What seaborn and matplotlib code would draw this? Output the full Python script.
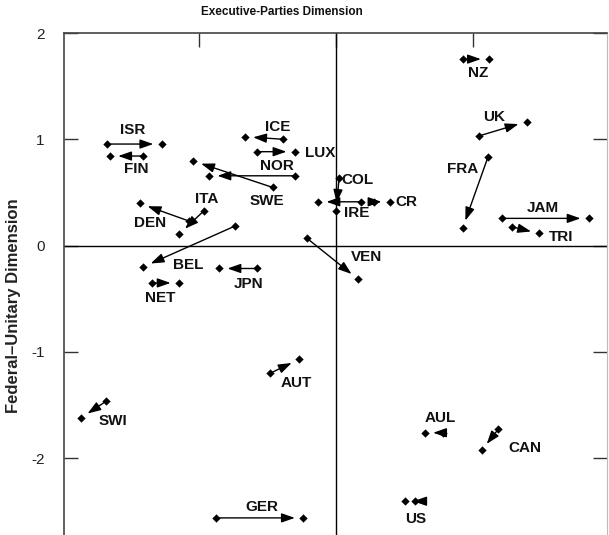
import matplotlib
matplotlib.use("Agg")
import matplotlib.pyplot as plt
import seaborn as sns
import pandas as pd

# ---- data (start -> end positions on the two dimensions) ----
countries = ["ISR", "FIN", "ICE", "LUX", "NOR", "SWE", "ITA", "DEN", "BEL", "JPN",
             "NET", "AUT", "SWI", "GER", "NZ", "UK", "FRA", "JAM", "TRI", "COL",
             "IRE", "CR", "VEN", "AUL", "CAN", "US"]
x_start = [-1.670, -1.408, -0.384, -0.573, -0.299, -0.461, -0.961, -1.068, -0.736, -0.573,
           -1.342, -0.476, -1.675, -0.876, 0.927, 1.042, 1.109, 1.207, 1.284, 0.024,
           0.180, 0.277, -0.209, 0.779, 1.182, 0.575]
y_start = [0.957, 0.844, 1.002, 0.885, 0.658, 0.549, 0.328, 0.231, 0.184, -0.215,
           -0.351, -1.200, -1.467, -2.564, 1.757, 1.033, 0.838, 0.257, 0.177, 0.634,
           0.413, 0.413, 0.068, -1.762, -1.731, -2.407]
x_end = [-1.269, -1.646, -0.663, -0.299, -0.923, -1.039, -1.143, -1.428, -1.404, -0.850,
         -1.143, -0.267, -1.859, -0.238, 1.117, 1.389, 0.923, 1.843, 1.481, 0.000,
         -0.129, 0.393, 0.162, 0.648, 1.061, 0.503]
y_end = [0.957, 0.844, 1.026, 0.885, 0.658, 0.797, 0.106, 0.398, -0.200, -0.215,
         -0.351, -1.071, -1.624, -2.564, 1.757, 1.168, 0.162, 0.257, 0.115, 0.325,
         0.413, 0.413, -0.316, -1.762, -1.929, -2.407]

# label placement (layout, data coordinates)
label_x = [-1.479, -1.452, -0.425, -0.117, -0.432, -0.505, -0.942, -1.355, -1.074, -0.639,
           -1.282, -0.286, -1.622, -0.541, 1.036, 1.153, 0.927, 1.510, 1.644, 0.157,
           0.149, 0.517, 0.224, 0.757, 1.377, 0.583]
label_y = [1.090, 0.719, 1.121, 0.875, 0.753, 0.420, 0.439, 0.215, -0.184, -0.363,
           -0.492, -1.290, -1.656, -2.464, 1.625, 1.209, 0.719, 0.351, 0.077, 0.618,
           0.304, 0.413, -0.106, -1.621, -1.904, -2.574]

y_ticks = [-2, -1, 0, 1, 2]
x_ticks = [-1, 0, 1]

sns.set_style("white")
plt.rcParams["font.family"] = ["Liberation Sans", "DejaVu Sans"]
plt.rcParams["axes.unicode_minus"] = False

fig = plt.figure(figsize=(6.09, 5.35), dpi=100)
ax = fig.add_axes([64 / 609, 0.0, (607 - 64) / 609, (535 - 33.3) / 535])

pts = pd.DataFrame({
    "country": countries * 2,
    "x": x_start + x_end,
    "y": y_start + y_end,
})
sns.scatterplot(data=pts, x="x", y="y", marker="D", s=18, color="black",
                edgecolor="black", linewidth=0, ax=ax, zorder=4, legend=False)

for xs, ys, xe, ye in zip(x_start, y_start, x_end, y_end):
    ax.annotate("", xy=(xe, ye), xytext=(xs, ys),
                arrowprops=dict(arrowstyle="-|>,head_length=0.8,head_width=0.28",
                                color="black", lw=1.0, shrinkA=0, shrinkB=6,
                                mutation_scale=10), zorder=3)

for name, lx, ly in zip(countries, label_x, label_y):
    ax.text(lx, ly, name, ha="center", va="center", fontsize=11,
            fontweight="bold", color="#111111", zorder=5)

ax.axhline(0, color="black", lw=1.0, zorder=1)
ax.axvline(0, color="black", lw=1.0, zorder=1)

ax.set_xlim(-1.98, 1.975)
ax.set_ylim(-2.725, 2)
ax.set_yticks(y_ticks)
ax.set_yticklabels([str(t) for t in y_ticks])
ax.set_xticks(x_ticks)

ax.tick_params(axis="y", direction="in", left=True, right=True, length=10,
               width=1, pad=14, labelsize=11, labelcolor="#222222", color="#333333")
ax.tick_params(axis="x", direction="in", top=True, bottom=False, labelbottom=False,
               length=10, width=1, color="#333333")

for side in ["left", "top"]:
    ax.spines[side].set_color("#444444")
    ax.spines[side].set_linewidth(1.2)
ax.spines["right"].set_color("#bbbbbb")
ax.spines["right"].set_linewidth(0.8)
ax.spines["bottom"].set_visible(False)

ax.set_xlabel("")
ax.set_ylabel("Federal\u2013Unitary Dimension", fontsize=12, fontweight="bold",
              color="#222222")
ax.yaxis.set_label_coords(-0.079, 0.458)

fig.text(0.463, 0.978, "Executive-Parties Dimension", ha="center", va="center",
         fontsize=8.5, fontweight="bold", color="#111111")

fig.savefig("out.png", dpi=100)
